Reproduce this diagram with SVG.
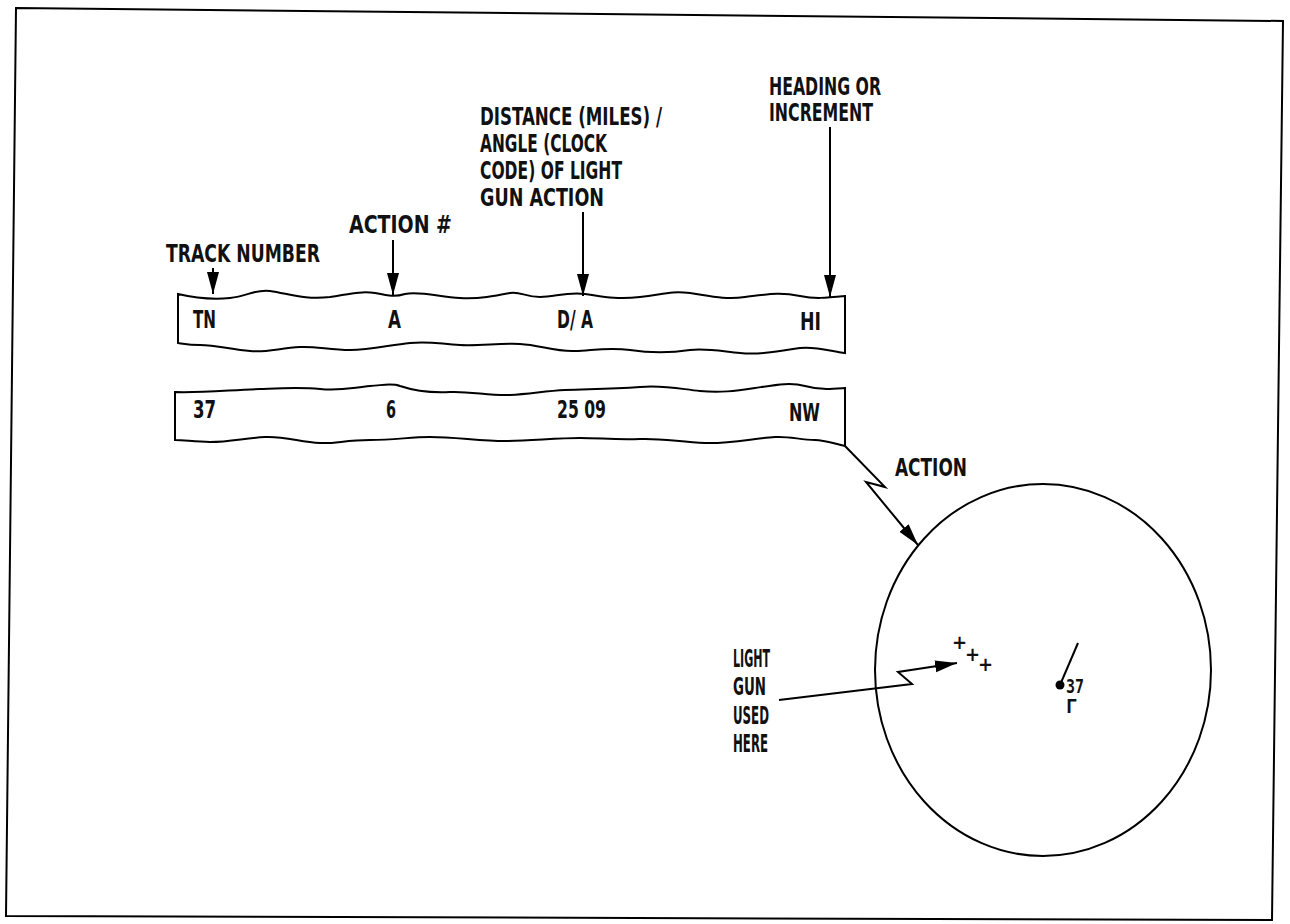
<svg xmlns="http://www.w3.org/2000/svg" width="1290" height="924" viewBox="0 0 1290 924">
<defs>
<marker id="ah" markerUnits="userSpaceOnUse" markerWidth="24" markerHeight="14" refX="22" refY="7" orient="auto">
<path d="M0,1 L22,7 L0,13 Z" fill="#000"/>
</marker>
<style>
.t{font-family:"DejaVu Sans Condensed","DejaVu Sans",sans-serif;font-size:24px;font-weight:bold;fill:#111;}
.s{font-size:20px;}
.ln{fill:none;stroke:#000;stroke-width:2;}
.ar{fill:none;stroke:#000;stroke-width:2;marker-end:url(#ah);}
</style>
</defs>
<rect width="1290" height="924" fill="#fff"/>
<polygon id="frame" points="16,8 1283,21 1272,920 6,916" class="ln"/>

<g id="labels">
<text class="t" x="166" y="262" textLength="154" lengthAdjust="spacingAndGlyphs">TRACK NUMBER</text>
<text class="t" x="349" y="233" textLength="103" lengthAdjust="spacingAndGlyphs">ACTION #</text>
<text class="t" x="480" y="125" textLength="182" lengthAdjust="spacingAndGlyphs">DISTANCE (MILES) /</text>
<text class="t" x="480" y="152" textLength="127" lengthAdjust="spacingAndGlyphs">ANGLE (CLOCK</text>
<text class="t" x="480" y="179" textLength="142" lengthAdjust="spacingAndGlyphs">CODE) OF LIGHT</text>
<text class="t" x="480" y="206" textLength="124" lengthAdjust="spacingAndGlyphs">GUN ACTION</text>
<text class="t" x="769" y="95" textLength="112" lengthAdjust="spacingAndGlyphs">HEADING OR</text>
<text class="t" x="769" y="121" textLength="104" lengthAdjust="spacingAndGlyphs">INCREMENT</text>
</g>

<g id="strip1">
<path class="ln" d="M178,294 C195,298 210,300 230,298 C248,296 255,289 270,291 C290,294 305,300 330,297 C350,294 360,291 375,293 C390,296 395,297 405,294 C420,291 440,297 460,298 C480,299 495,296 510,293 C520,291 525,297 540,297 C555,297 565,292 585,294 C600,296 615,300 640,297 C665,294 670,291 690,293 C710,296 725,300 745,297 C770,294 780,292 800,296 C815,299 825,298 845,296 L845,353 C830,351 815,346 800,348 C780,351 760,355 740,353 C720,351 705,348 690,350 C670,353 650,353 630,350 C610,347 595,350 575,351 C555,352 540,345 520,344 C500,343 480,346 460,345 C440,344 430,341 410,343 C390,345 370,350 350,350 C330,350 315,346 300,347 C280,348 265,353 250,351 C230,349 215,345 200,345 C190,345 185,344 178,343 Z"/>
<text class="t" x="193" y="328" textLength="23" lengthAdjust="spacingAndGlyphs">TN</text>
<text class="t" x="388" y="328" textLength="13" lengthAdjust="spacingAndGlyphs">A</text>
<text class="t" x="557" y="328" textLength="36" lengthAdjust="spacingAndGlyphs">D/ A</text>
<text class="t" x="800" y="330" textLength="21" lengthAdjust="spacingAndGlyphs">HI</text>
</g>

<g id="strip2">
<path class="ln" d="M175,392 C200,393 230,390 260,389 C285,388 300,387 320,389 C340,391 350,388 370,386 C385,385 392,383 400,386 C415,391 430,393 450,392 C470,391 490,396 510,395 C530,394 545,391 565,390 C590,389 610,389 640,387 C665,385 680,389 700,391 C720,393 735,391 755,388 C775,385 790,382 805,386 C820,390 830,389 845,388 L845,446 C835,444 825,440 815,440 C800,440 790,436 775,437 C755,438 730,444 705,443 C680,442 660,438 640,439 C615,440 600,438 580,438 C555,438 530,441 505,441 C480,441 455,437 430,437 C410,437 395,440 370,440 C345,440 335,444 320,443 C300,442 285,436 265,437 C245,438 230,442 210,442 C195,442 185,440 175,440 Z"/>
<text class="t" x="193" y="418" textLength="23" lengthAdjust="spacingAndGlyphs">37</text>
<text class="t" x="386" y="418" textLength="10" lengthAdjust="spacingAndGlyphs">6</text>
<text class="t" x="557" y="418" textLength="49" lengthAdjust="spacingAndGlyphs">25 09</text>
<text class="t" x="789" y="421" textLength="31" lengthAdjust="spacingAndGlyphs">NW</text>
</g>

<g id="scope">
<ellipse cx="1043" cy="670" rx="168" ry="186" class="ln"/>
<text class="t s" x="952" y="649">+</text>
<text class="t s" x="965" y="661">+</text>
<text class="t s" x="978" y="671">+</text>
<line x1="1060" y1="685" x2="1078" y2="643" class="ln"/>
<circle cx="1060" cy="685" r="4.5" fill="#000"/>
<text class="t" x="1066" y="693" style="font-size:19px;font-family:'DejaVu Sans Mono',monospace" textLength="18" lengthAdjust="spacingAndGlyphs">37</text>
<text class="t" x="1066" y="713" style="font-size:19px;font-family:'DejaVu Sans Mono',monospace">Γ</text>
</g>

<g id="action-label">
<text class="t" x="895" y="476" textLength="72" lengthAdjust="spacingAndGlyphs">ACTION</text>
</g>

<g id="light-gun-label">
<text class="t" x="733" y="667" textLength="37" lengthAdjust="spacingAndGlyphs">LIGHT</text>
<text class="t" x="733" y="695" textLength="33" lengthAdjust="spacingAndGlyphs">GUN</text>
<text class="t" x="733" y="724" textLength="36" lengthAdjust="spacingAndGlyphs">USED</text>
<text class="t" x="733" y="752" textLength="35" lengthAdjust="spacingAndGlyphs">HERE</text>
</g>

<g id="connectors">
<line x1="213" y1="268" x2="213" y2="294" class="ar"/>
<line x1="393" y1="240" x2="393" y2="295" class="ar"/>
<line x1="583" y1="212" x2="583" y2="296" class="ar"/>
<line x1="830" y1="127" x2="830" y2="297" class="ar"/>
<polyline points="845,446 885,487 866,482 918,545" class="ar"/>
<polyline points="779,700 912,684 898,672 957,663" class="ar"/>
</g>
</svg>
